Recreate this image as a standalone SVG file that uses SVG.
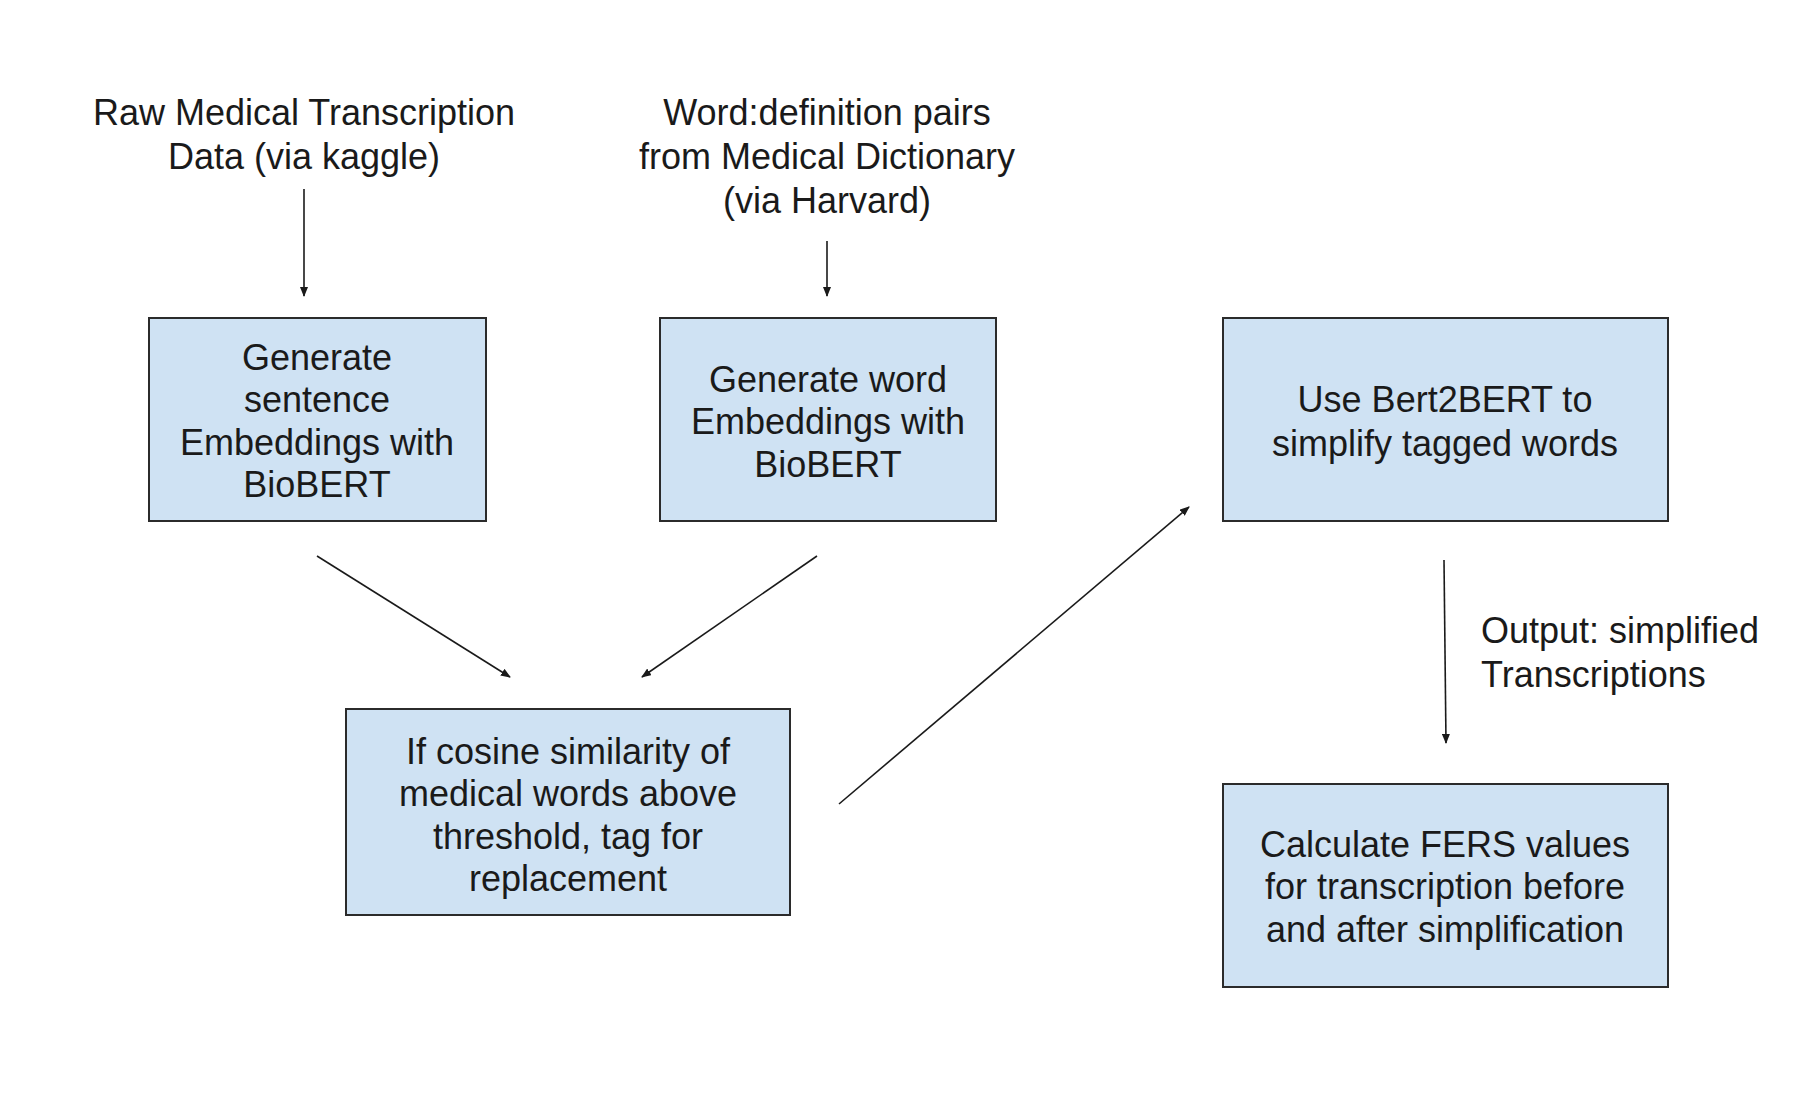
<svg xmlns="http://www.w3.org/2000/svg" width="1800" height="1104" viewBox="0 0 1800 1104">
<style>
  .box{fill:#cfe2f3;stroke:#2b2b2b;stroke-width:2}
  .t{font-family:"Liberation Sans",Arial,sans-serif;font-size:36px;fill:#1a1a1a;text-anchor:middle}
  .tl{font-family:"Liberation Sans",Arial,sans-serif;font-size:36px;fill:#1a1a1a;text-anchor:start}
  .c{stroke:#1a1a1a;stroke-width:1.6;fill:none;marker-end:url(#ah)}
</style>
<defs>
  <marker id="ah" markerWidth="10" markerHeight="8" refX="9" refY="4" orient="auto" markerUnits="userSpaceOnUse">
    <path d="M0,0 L10,4 L0,8 Z" fill="#1a1a1a"/>
  </marker>
</defs>
<rect width="1800" height="1104" fill="#ffffff"/>
<g id="src1">
  <text class="t" x="304" y="125">Raw Medical Transcription</text>
  <text class="t" x="304" y="169">Data (via kaggle)</text>
</g>
<g id="src2">
  <text class="t" x="827" y="125">Word:definition pairs</text>
  <text class="t" x="827" y="169">from Medical Dictionary</text>
  <text class="t" x="827" y="213">(via Harvard)</text>
</g>
<g id="n1">
  <rect class="box" x="149" y="318" width="337" height="203"/>
  <text class="t" x="317" y="370">Generate</text>
  <text class="t" x="317" y="412">sentence</text>
  <text class="t" x="317" y="455">Embeddings with</text>
  <text class="t" x="317" y="497">BioBERT</text>
</g>
<g id="n2">
  <rect class="box" x="660" y="318" width="336" height="203"/>
  <text class="t" x="828" y="392">Generate word</text>
  <text class="t" x="828" y="434">Embeddings with</text>
  <text class="t" x="828" y="477">BioBERT</text>
</g>
<g id="n3">
  <rect class="box" x="1223" y="318" width="445" height="203"/>
  <text class="t" x="1445" y="412">Use Bert2BERT to</text>
  <text class="t" x="1445" y="456">simplify tagged words</text>
</g>
<g id="n4">
  <rect class="box" x="346" y="709" width="444" height="206"/>
  <text class="t" x="568" y="764">If cosine similarity of</text>
  <text class="t" x="568" y="806">medical words above</text>
  <text class="t" x="568" y="849">threshold, tag for</text>
  <text class="t" x="568" y="891">replacement</text>
</g>
<g id="n5">
  <rect class="box" x="1223" y="784" width="445" height="203"/>
  <text class="t" x="1445" y="857">Calculate FERS values</text>
  <text class="t" x="1445" y="899">for transcription before</text>
  <text class="t" x="1445" y="942">and after simplification</text>
</g>
<g id="connectors">
  <line class="c" x1="304" y1="189" x2="304" y2="296"/>
  <line class="c" x1="827" y1="241" x2="827" y2="296"/>
  <line class="c" x1="317" y1="556" x2="510" y2="677"/>
  <line class="c" x1="817" y1="556" x2="642" y2="677"/>
  <line class="c" x1="839" y1="804" x2="1189" y2="507"/>
  <line class="c" x1="1444" y1="560" x2="1446" y2="743"/>
  <text class="tl" x="1481" y="643">Output: simplified</text>
  <text class="tl" x="1481" y="687">Transcriptions</text>
</g>
</svg>
